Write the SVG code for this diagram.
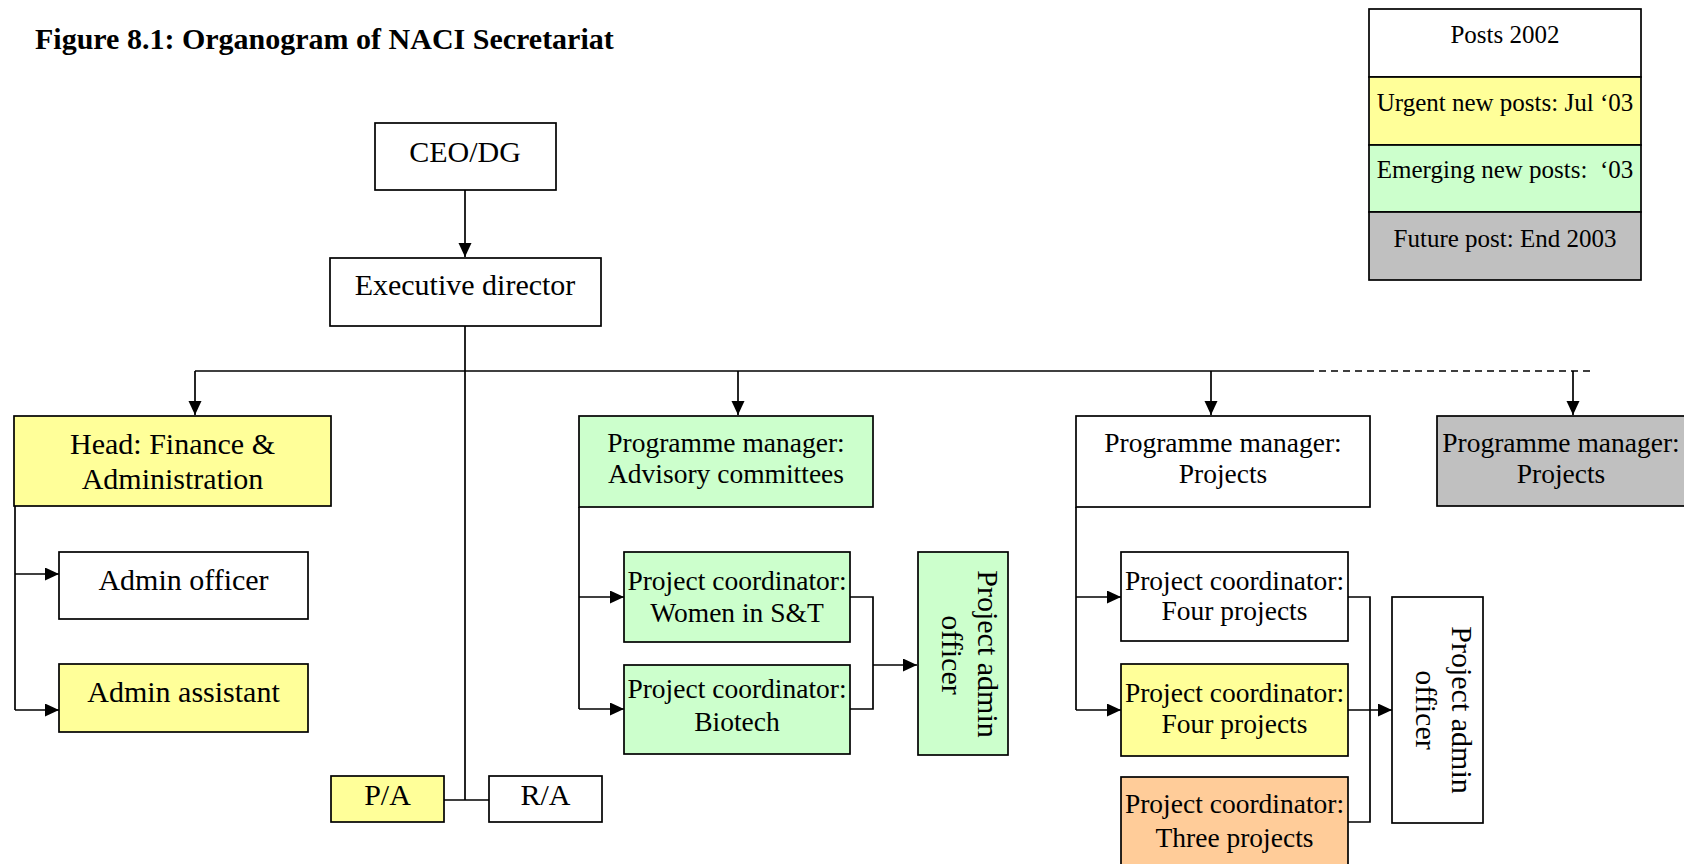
<svg xmlns="http://www.w3.org/2000/svg" width="1684" height="864" viewBox="0 0 1684 864">
<style>
text{font-family:"Liberation Serif","Times New Roman",serif;fill:#000}
.t30{font-size:30px;text-anchor:middle}
.t27{font-size:27.5px;text-anchor:middle}
.t25{font-size:25px;text-anchor:middle}
.box{stroke:#000;stroke-width:1.7}
.w{fill:#fff}.y{fill:#ffff99}.g{fill:#ccffcc}.gr{fill:#c0c0c0}.o{fill:#ffcc99}
.ln{fill:none;stroke:#000;stroke-width:1.7}
.dash{stroke-dasharray:7 5}
</style>
<defs>
<marker id="ah" markerUnits="userSpaceOnUse" markerWidth="14" markerHeight="14" refX="14" refY="6.5" orient="auto">
<path d="M0,0 L14,6.5 L0,13 z" fill="#000"/>
</marker>
</defs>
<rect width="1684" height="864" fill="#fff"/>
<text x="35" y="49" style="font-size:30px;font-weight:bold">Figure 8.1: Organogram of NACI Secretariat</text>

<g id="connectors">
<path class="ln" d="M465,190 V257" marker-end="url(#ah)"/>
<path class="ln" d="M465,326 V800 M444,800 H489"/>
<path class="ln" d="M195,371 H1307"/>
<path class="ln dash" d="M1307,371 H1595"/>
<path class="ln" d="M195,371 V415" marker-end="url(#ah)"/>
<path class="ln" d="M738,371 V415" marker-end="url(#ah)"/>
<path class="ln" d="M1211,371 V415" marker-end="url(#ah)"/>
<path class="ln" d="M1573,371 V415" marker-end="url(#ah)"/>
<path class="ln" d="M15,506 V710"/>
<path class="ln" d="M15,574 H59" marker-end="url(#ah)"/>
<path class="ln" d="M15,710 H59" marker-end="url(#ah)"/>
<path class="ln" d="M579,507 V709"/>
<path class="ln" d="M579,597 H624" marker-end="url(#ah)"/>
<path class="ln" d="M579,709 H624" marker-end="url(#ah)"/>
<path class="ln" d="M850,597 H873 V709 H850"/>
<path class="ln" d="M873,665 H917" marker-end="url(#ah)"/>
<path class="ln" d="M1076,507 V710"/>
<path class="ln" d="M1076,597 H1121" marker-end="url(#ah)"/>
<path class="ln" d="M1076,710 H1121" marker-end="url(#ah)"/>
<path class="ln" d="M1348,597 H1370 V822 H1348"/>
<path class="ln" d="M1348,710 H1392" marker-end="url(#ah)"/>
</g>

<g id="legend">
<rect class="box w" x="1369" y="9" width="272" height="68"/>
<rect class="box y" x="1369" y="77" width="272" height="68"/>
<rect class="box g" x="1369" y="145" width="272" height="67"/>
<rect class="box gr" x="1369" y="212" width="272" height="68"/>
<text class="t25" x="1505" y="43">Posts 2002</text>
<text class="t25" x="1505" y="111">Urgent new posts: Jul ‘03</text>
<text class="t25" x="1505" y="178" xml:space="preserve">Emerging new posts:  ‘03</text>
<text class="t25" x="1505" y="247">Future post: End 2003</text>
</g>

<g id="ceo">
<rect class="box w" x="375" y="123" width="181" height="67"/>
<text class="t30" x="465" y="162">CEO/DG</text>
</g>
<g id="exec">
<rect class="box w" x="330" y="258" width="271" height="68"/>
<text class="t30" x="465" y="295">Executive director</text>
</g>
<g id="head-finance">
<rect class="box y" x="14" y="416" width="317" height="90"/>
<text class="t30" x="172.5" y="454">Head: Finance &amp;</text>
<text class="t30" x="172.5" y="489">Administration</text>
</g>
<g id="admin-officer">
<rect class="box w" x="59" y="552" width="249" height="67"/>
<text class="t30" x="183.5" y="590">Admin officer</text>
</g>
<g id="admin-assistant">
<rect class="box y" x="59" y="664" width="249" height="68"/>
<text class="t30" x="183.5" y="702">Admin assistant</text>
</g>
<g id="pa">
<rect class="box y" x="331" y="776" width="113" height="46"/>
<text class="t30" x="387.5" y="805">P/A</text>
</g>
<g id="ra">
<rect class="box w" x="489" y="776" width="113" height="46"/>
<text class="t30" x="545.5" y="805">R/A</text>
</g>
<g id="pm-advisory">
<rect class="box g" x="579" y="416" width="294" height="91"/>
<text class="t27" x="726" y="452">Programme manager:</text>
<text class="t27" x="726" y="483">Advisory committees</text>
</g>
<g id="pc-women">
<rect class="box g" x="624" y="552" width="226" height="90"/>
<text class="t27" x="737" y="590">Project coordinator:</text>
<text class="t27" x="737" y="622">Women in S&amp;T</text>
</g>
<g id="pc-biotech">
<rect class="box g" x="624" y="665" width="226" height="89"/>
<text class="t27" x="737" y="698">Project coordinator:</text>
<text class="t27" x="737" y="731">Biotech</text>
</g>
<g id="pao-1">
<rect class="box g" x="918" y="552" width="90" height="203"/>
<text class="t30" transform="translate(978,654) rotate(90)">Project admin</text>
<text class="t30" transform="translate(942,655) rotate(90)">officer</text>
</g>
<g id="pm-projects">
<rect class="box w" x="1076" y="416" width="294" height="91"/>
<text class="t27" x="1223" y="452">Programme manager:</text>
<text class="t27" x="1223" y="483">Projects</text>
</g>
<g id="pm-projects-future">
<rect class="box gr" x="1437" y="416" width="260" height="90"/>
<text class="t27" x="1561" y="452">Programme manager:</text>
<text class="t27" x="1561" y="483">Projects</text>
</g>
<g id="pc-four-1">
<rect class="box w" x="1121" y="552" width="227" height="89"/>
<text class="t27" x="1234.5" y="590">Project coordinator:</text>
<text class="t27" x="1234.5" y="620">Four projects</text>
</g>
<g id="pc-four-2">
<rect class="box y" x="1121" y="664" width="227" height="92"/>
<text class="t27" x="1234.5" y="702">Project coordinator:</text>
<text class="t27" x="1234.5" y="733">Four projects</text>
</g>
<g id="pc-three">
<rect class="box o" x="1121" y="777" width="227" height="100"/>
<text class="t27" x="1234.5" y="813">Project coordinator:</text>
<text class="t27" x="1234.5" y="847">Three projects</text>
</g>
<g id="pao-2">
<rect class="box w" x="1392" y="597" width="91" height="226"/>
<text class="t30" transform="translate(1452,710) rotate(90)">Project admin</text>
<text class="t30" transform="translate(1416,710) rotate(90)">officer</text>
</g>
</svg>
